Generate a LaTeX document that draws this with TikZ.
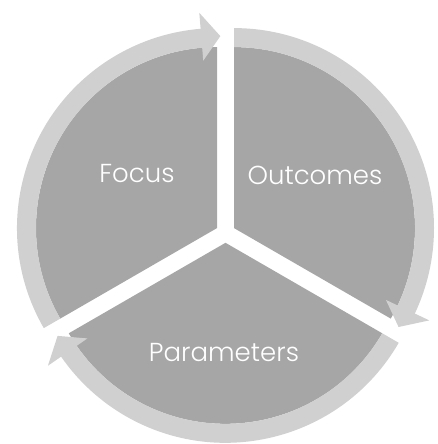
\documentclass[tikz,border=0pt]{standalone}
\usepackage{fontspec}
\setmainfont{Poppins Light}
\usepackage{tikz}
\usetikzlibrary{calc}
\definecolor{sectorgray}{HTML}{A6A6A6}
\definecolor{ringgray}{HTML}{D0D0D0}

% curved arrow round one sector: #1 centre, #2 start angle, #3 end angle
\newcommand{\cyclearrow}[3]{%
  \pgfmathsetmacro{\tipang}{#3-1}%
  \pgfmathsetmacro{\backang}{#3+4.7}%
  \fill[ring] ($(#1)+(#2:200)$) arc[start angle=#2, end angle=\backang, radius=200]
    -- ($(#1)+(\backang:216)$) -- ($(#1)+(\tipang:192)$) -- ($(#1)+(\backang:168)$)
    -- ($(#1)+(\backang:181)$) arc[start angle=\backang, end angle=#2, radius=181] -- cycle;}

\begin{document}
\begin{tikzpicture}[
  x=1pt, y=1pt,
  sector/.style={fill=sectorgray},
  ring/.style={fill=ringgray},
  cyclelabel/.style={text=white, font=\fontsize{26}{30}\selectfont, inner sep=0pt, anchor=base}
]
\useasboundingbox (0,0) rectangle (437,444);
\coordinate (focusc) at (217,215.9);
\coordinate (outc) at (234,215.9);
\coordinate (paramc) at (225.5,201.2);
% the three pie pieces
\fill[sector] (focusc) -- ($(focusc)+(210:181)$) arc[start angle=210, end angle=90, radius=181] -- cycle;
\fill[sector] (outc) -- ($(outc)+(90:181)$) arc[start angle=90, end angle=-30, radius=181] -- cycle;
\fill[sector] (paramc) -- ($(paramc)+(330:181)$) arc[start angle=330, end angle=210, radius=181] -- cycle;
% arrows going clockwise
\cyclearrow{focusc}{210}{90}
\cyclearrow{outc}{90}{-30}
\cyclearrow{paramc}{330}{210}
\node[cyclelabel] (focus) at (137,261) {Focus};
\node[cyclelabel] (outcomes) at (315,259) {Outcomes};
\node[cyclelabel] (parameters) at (224,82) {Parameters};
\end{tikzpicture}
\end{document}
